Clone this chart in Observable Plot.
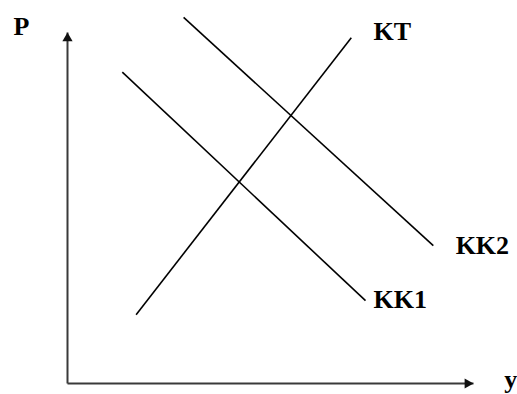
<!DOCTYPE html>
<html>
<head>
<meta charset="utf-8">
<script src="https://cdn.jsdelivr.net/npm/d3@7"></script>
<script src="https://cdn.jsdelivr.net/npm/@observablehq/plot@0.6"></script>
<style>
  html, body { margin: 0; padding: 0; background: #fff; }
  #chart svg { display: block; background: #fff; }
</style>
</head>
<body>
<div id="chart"></div>
<script>
// Curves: straight segments in abstract (y, P) units, axes span 0..10
const curveNames = ["KT", "KK1", "KK2"];
const curveX1 = [1.69, 1.35, 2.86];
const curveY1 = [1.96, 8.87, 10.43];
const curveX2 = [6.99, 7.34, 9.01];
const curveY2 = [9.85, 2.36, 3.93];

// Curve labels
const labelText = ["KT", "KK1", "KK2"];
const labelX = [7.54, 7.54, 9.56];
const labelY = [9.80, 2.14, 3.70];

// Axis titles
const axisTitles = ["P", "y"];
const axisTitleX = [-1.33, 10.76];
const axisTitleY = [9.93, -0.14];

// Axis extents
const axisMax = 10;

const curves = curveNames.map((n, i) => ({name: n, x1: curveX1[i], y1: curveY1[i], x2: curveX2[i], y2: curveY2[i]}));
const labels = labelText.map((t, i) => ({text: t, x: labelX[i], y: labelY[i]}));

const serif = "'Liberation Serif', 'Times New Roman', 'DejaVu Serif', serif";

const chart = Plot.plot({
  width: 517,
  height: 394,
  margin: 0,
  x: {domain: [0, axisMax], range: [67, 473], axis: null},
  y: {domain: [0, axisMax], range: [383, 32], axis: null},
  marks: [
    // axes
    Plot.link([{x1: 0, y1: 0, x2: 0, y2: axisMax}], {x1: "x1", y1: "y1", x2: "x2", y2: "y2", stroke: "#3a3a3a", strokeWidth: 2}),
    Plot.link([{x1: 0, y1: 0, x2: axisMax, y2: 0}], {x1: "x1", y1: "y1", x2: "x2", y2: "y2", stroke: "#3a3a3a", strokeWidth: 2}),
    // arrowheads
    Plot.dot([{x: 0, y: axisMax}], {x: "x", y: "y", symbol: "triangle", r: 3.8, fill: "#111", stroke: "none", dy: 5.9}),
    Plot.dot([{x: axisMax, y: 0}], {x: "x", y: "y", symbol: "triangle", r: 3.8, fill: "#111", stroke: "none", rotate: 90, dx: -5.9}),
    // curves
    Plot.link(curves, {x1: "x1", y1: "y1", x2: "x2", y2: "y2", stroke: "#000", strokeWidth: 1.6}),
    // labels
    Plot.text(labels, {x: "x", y: "y", text: "text", textAnchor: "start", lineAnchor: "bottom", fontFamily: serif, fontWeight: "bold", fontSize: 26, fill: "#000"}),
    Plot.text([{t: axisTitles[0], x: axisTitleX[0], y: axisTitleY[0]}], {x: "x", y: "y", text: "t", textAnchor: "start", lineAnchor: "bottom", fontFamily: serif, fontWeight: "bold", fontSize: 26, fill: "#000"}),
    Plot.text([{t: axisTitles[1], x: axisTitleX[1], y: axisTitleY[1]}], {x: "x", y: "y", text: "t", textAnchor: "start", lineAnchor: "bottom", fontFamily: serif, fontWeight: "bold", fontSize: 26, fill: "#000"})
  ]
});
document.getElementById("chart").appendChild(chart);
</script>
</body>
</html>
